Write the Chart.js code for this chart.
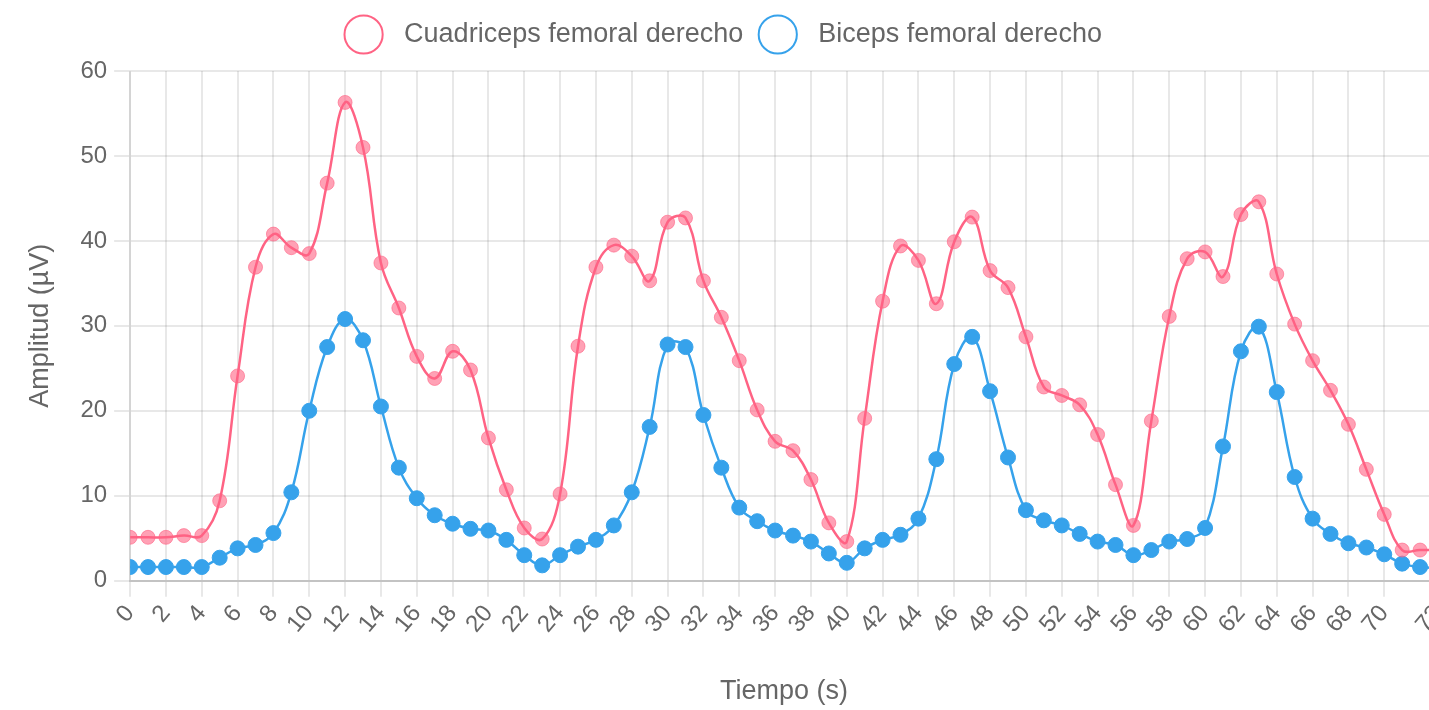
<!DOCTYPE html>
<html lang="es">
<head>
    <meta charset="UTF-8">
    <title>Amplitud EMG</title>
    <script src="https://cdn.jsdelivr.net/npm/chart.js"></script>
    <style>
        html, body {
            margin: 0;
            padding: 0;
            background: #fff;
            overflow: hidden;
        }
        canvas {
            display: block;
        }
    </style>
</head>
<body>
    <canvas id="emgChart" width="1438" height="714"></canvas>

    <script>
        const tiempo = [
            0, 1, 2, 3, 4, 5, 6, 7, 8, 9, 10, 11, 12, 13, 14, 15, 16, 17, 18, 19,
            20, 21, 22, 23, 24, 25, 26, 27, 28, 29, 30, 31, 32, 33, 34, 35, 36, 37, 38, 39,
            40, 41, 42, 43, 44, 45, 46, 47, 48, 49, 50, 51, 52, 53, 54, 55, 56, 57, 58, 59,
            60, 61, 62, 63, 64, 65, 66, 67, 68, 69, 70, 71, 72, 73
        ];

        const cuadriceps = [
            5.1, 5.1, 5.1, 5.3, 5.3, 9.4, 24.1, 36.9, 40.8, 39.2, 38.5, 46.8, 56.3, 51.0, 37.4, 32.1, 26.4, 23.8, 27.0, 24.8,
            16.8, 10.7, 6.2, 4.9, 10.2, 27.6, 36.9, 39.5, 38.2, 35.3, 42.2, 42.7, 35.3, 31.0, 25.9, 20.1, 16.4, 15.3, 11.9, 6.8,
            4.6, 19.1, 32.9, 39.4, 37.7, 32.6, 39.9, 42.8, 36.5, 34.5, 28.7, 22.8, 21.8, 20.7, 17.2, 11.3, 6.5, 18.8, 31.1, 37.9,
            38.7, 35.8, 43.1, 44.6, 36.1, 30.2, 25.9, 22.4, 18.4, 13.1, 7.8, 3.6, 3.6, 3.6
        ];

        const biceps = [
            1.6, 1.6, 1.6, 1.6, 1.6, 2.7, 3.8, 4.2, 5.6, 10.4, 20.0, 27.5, 30.8, 28.3, 20.5, 13.3, 9.7, 7.7, 6.7, 6.1,
            5.9, 4.8, 3.0, 1.8, 3.0, 4.0, 4.8, 6.5, 10.4, 18.1, 27.8, 27.5, 19.5, 13.3, 8.6, 7.0, 5.9, 5.3, 4.6, 3.2,
            2.1, 3.8, 4.8, 5.4, 7.3, 14.3, 25.5, 28.7, 22.3, 14.5, 8.3, 7.1, 6.5, 5.5, 4.6, 4.2, 3.0, 3.6, 4.6, 4.9,
            6.2, 15.8, 27.0, 29.9, 22.2, 12.2, 7.3, 5.5, 4.4, 3.9, 3.1, 2.0, 1.6, 1.5
        ];

        const ejeY = { min: 0, max: 60, paso: 10 };
        const ejeX = { min: 0, max: 73, paso: 2 };

        const gris = '#666';
        const rejilla = 'rgba(0, 0, 0, 0.09)';

        function puntos(valores) {
            return tiempo.map((t, i) => ({ x: t, y: valores[i] }));
        }

        // leyenda con circulos huecos, como en la figura original
        function etiquetasLeyenda(chart) {
            const base = Chart.defaults.plugins.legend.labels.generateLabels(chart);
            base.forEach(item => {
                const ds = chart.data.datasets[item.datasetIndex];
                item.text = '\u2002' + item.text;
                item.fillStyle = 'rgba(255, 255, 255, 0)';
                item.strokeStyle = ds.borderColor;
                item.lineWidth = 2;
            });
            return base;
        }

        // un poco mas de aire debajo de la leyenda
        const margenLeyenda = {
            id: 'margenLeyenda',
            beforeInit(chart) {
                if (!chart.legend) return;
                const fitOrig = chart.legend.fit;
                chart.legend.fit = function () {
                    fitOrig.bind(chart.legend)();
                    this.height += 13;
                };
            }
        };

        const ctx = document.getElementById('emgChart').getContext('2d');

        new Chart(ctx, {
            type: 'line',
            data: {
                datasets: [{
                    label: 'Cuadriceps femoral derecho',
                    data: puntos(cuadriceps),
                    borderColor: 'rgb(255, 99, 132)',
                    backgroundColor: 'rgba(255, 99, 132, 0.03)',
                    pointBackgroundColor: 'rgba(255, 99, 132, 0.6)',
                    pointBorderColor: 'rgba(255, 99, 132, 0.6)',
                    borderWidth: 2.5,
                    pointRadius: 7,
                    pointBorderWidth: 1,
                    tension: 0.4
                }, {
                    label: 'Biceps femoral derecho',
                    data: puntos(biceps),
                    borderColor: 'rgb(54, 162, 235)',
                    backgroundColor: 'rgba(54, 162, 235, 0.03)',
                    pointBackgroundColor: 'rgb(54, 162, 235)',
                    pointBorderColor: 'rgb(54, 162, 235)',
                    borderWidth: 2.5,
                    pointRadius: 7.5,
                    pointBorderWidth: 1,
                    tension: 0.4
                }]
            },
            plugins: [margenLeyenda],
            options: {
                responsive: false,
                animation: false,
                layout: { autoPadding: false, padding: { left: 14 } },
                plugins: {
                    legend: {
                        position: 'top',
                        labels: {
                            usePointStyle: true,
                            pointStyle: 'circle',
                            color: gris,
                            padding: 21,
                            font: { size: 27 },
                            generateLabels: etiquetasLeyenda
                        }
                    },
                    tooltip: { enabled: false }
                },
                scales: {
                    x: {
                        type: 'linear',
                        min: ejeX.min,
                        max: ejeX.max,
                        afterFit: (eje) => { eje.paddingRight = 0; },
                        ticks: {
                            stepSize: ejeX.paso,
                            autoSkip: false,
                            color: gris,
                            minRotation: 50,
                            maxRotation: 50,
                            font: { size: 24 }
                        },
                        grid: { color: rejilla, lineWidth: 2, tickLength: 16 },
                        border: { color: 'rgba(0, 0, 0, 0.16)', width: 2 },
                        title: {
                            display: true,
                            text: 'Tiempo (s)',
                            color: gris,
                            font: { size: 27 },
                            padding: { top: 34, bottom: 6 }
                        }
                    },
                    y: {
                        min: ejeY.min,
                        max: ejeY.max,
                        ticks: {
                            stepSize: ejeY.paso,
                            color: gris,
                            padding: 7,
                            font: { size: 24 }
                        },
                        grid: { color: rejilla, lineWidth: 2, tickLength: 16 },
                        border: { color: rejilla, width: 2 },
                        title: {
                            display: true,
                            text: 'Amplitud (µV)',
                            color: gris,
                            font: { size: 27 },
                            padding: { top: 10, bottom: 17 }
                        }
                    }
                }
            }
        });
    </script>
</body>
</html>
